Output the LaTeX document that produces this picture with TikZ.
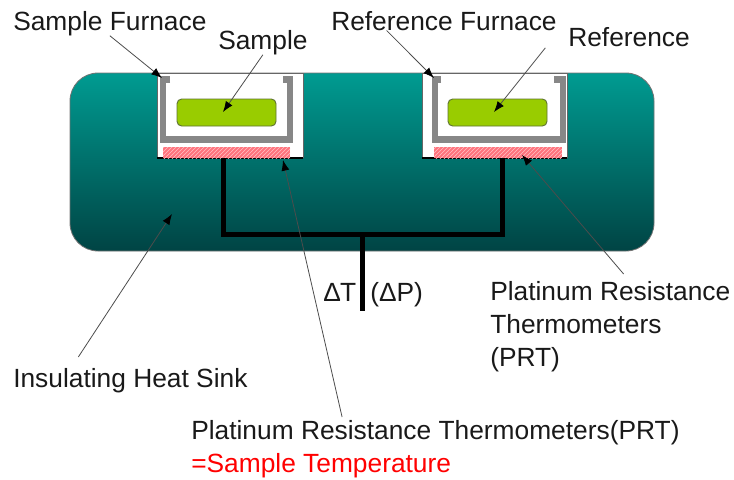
\documentclass[tikz,border=0pt]{standalone}
\usepackage{fontspec}
\setmainfont{Liberation Sans}
\usetikzlibrary{patterns,arrows.meta}
\definecolor{tealtop}{RGB}{0,155,145}
\definecolor{tealbot}{RGB}{0,68,68}
\definecolor{wallgray}{RGB}{135,135,135}
\definecolor{greenfill}{RGB}{153,204,0}
\definecolor{greenedge}{RGB}{95,115,50}
\definecolor{pinkfill}{RGB}{255,115,125}
\tikzset{
  x=0.75pt,y=-0.75pt,
  lab/.style={inner sep=0pt,anchor=base west,font=\fontsize{19.75}{23}\selectfont,text=black!90},
  ptr/.style={draw=black!70,line width=0.6pt,-{Latex[length=8pt,width=6pt,black]}},
  wire/.style={draw=black,line width=3.75pt},
  window/.style={fill=white,draw=none},
  wall/.style={draw=wallgray,line width=4.7pt,line cap=butt,line join=miter},
  samplebox/.style={fill=greenfill,draw=greenedge,line width=0.7pt,rounded corners=3.5pt},
}
\begin{document}
\begin{tikzpicture}
\useasboundingbox (0,0) rectangle (734,479);
% body
\path[top color=tealtop,bottom color=tealbot,draw=black!55,line width=0.6pt,rounded corners=21pt] (70,73) rectangle (654,251);
% furnace windows
\fill[window] (157,73) rectangle (303,158);
\fill[window] (422,73) rectangle (567,158);
\draw[black!60,line width=0.5pt] (157,158) -- (157,73) -- (303,73) -- (303,158);
\draw[black!60,line width=0.5pt] (422,158) -- (422,73) -- (567,73) -- (567,158);
\draw[black,line width=0.9pt] (157,158) -- (303,158);
\draw[black,line width=0.9pt] (422,158) -- (567,158);
% U walls
\draw[wall] (170,79.5) -- (163,79.5) -- (163,139.5) -- (290,139.5) -- (290,79.5) -- (283,79.5);
\draw[wall] (441,79.5) -- (435,79.5) -- (435,139.5) -- (563,139.5) -- (563,79.5) -- (554,79.5);
% pink thermometers
\fill[pinkfill] (163,147) rectangle (290,158);
\fill[pinkfill] (434,147) rectangle (562,158);
\path[pattern=north east lines,pattern color=white!55!pinkfill] (163,147) rectangle (290,158);
\path[pattern=north east lines,pattern color=white!55!pinkfill] (434,147) rectangle (562,158);
% samples
\draw[samplebox] (177,99) rectangle (276,126);
\draw[samplebox] (448,99) rectangle (547,126);
% wires
\coordinate (wl) at (223,158);
\coordinate (wr) at (502,158);
\coordinate (wj) at (362,234.5);
\coordinate (we) at (362,311);
\draw[wire,line join=miter] (wl) -- (223,234.5) -- (502,234.5) -- (wr);
\draw[wire] (wj) -- (we);
% labels
\node[lab] (sfl) at (13,30) {Sample Furnace};
\node[lab] (sl) at (218,49) {Sample};
\node[lab] (rfl) at (331,30) {Reference Furnace};
\node[lab] (rl) at (568,46) {Reference};
\node[lab] (dt) at (323,301) {Δ\kern-0.5pt T};
\node[lab] (dp) at (370,301) {(ΔP)};
\node[lab] (prtb) at (490,300) {Platinum Resistance};
\node[lab] (prtc) at (490,333) {Thermometers};
\node[lab] (prtd) at (490,366) {(PRT)};
\node[lab] (ihs) at (13,387) {Insulating Heat Sink};
\node[lab] (prta) at (191,439) {Platinum Resistance Thermometers(PRT)};
\node[lab,text=red] (st) at (191,472) {=Sample Temperature};
% pointer ends
\coordinate (t1) at (162,78);
\coordinate (t2) at (223,112);
\coordinate (t3) at (434,78);
\coordinate (t4) at (494,112);
\coordinate (t5) at (522,155);
\coordinate (t6) at (283,160);
\coordinate (t7) at (172,214);
\draw[ptr] (sfl.south) -- (t1);
\draw[ptr] (sl.south) -- (t2);
\draw[ptr] ([xshift=-43pt]rfl.south) -- (t3);
\draw[ptr] ([xshift=-17pt,yshift=-1pt]rl.south west) -- (t4);
\draw[ptr] ([xshift=10pt,yshift=5pt]prtb.north) -- (t5);
\draw[ptr] ([xshift=-70pt,yshift=2pt]prta.north) -- (t6);
\draw[ptr] ([xshift=49pt,yshift=8pt]ihs.north west) -- (t7);
\end{tikzpicture}
\end{document}
